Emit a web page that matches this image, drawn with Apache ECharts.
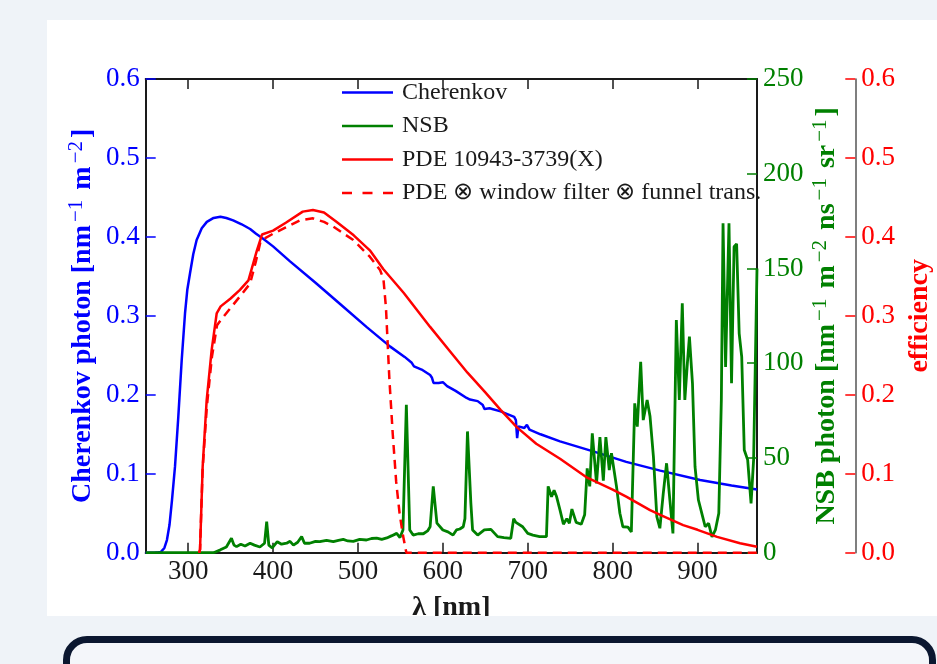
<!DOCTYPE html>
<html>
<head>
<meta charset="utf-8">
<script src="https://cdn.jsdelivr.net/npm/echarts@6/dist/echarts.min.js"></script>
<style>
  html, body { margin: 0; padding: 0; width: 937px; height: 664px; overflow: hidden; background: #eff3f8; }
  #card { position: absolute; left: 47px; top: 20px; width: 890px; height: 596px; background: #ffffff; overflow: hidden; }
  #chart { width: 890px; height: 596px; }
  #panel { position: absolute; left: 63px; top: 636px; width: 859px; height: 60px;
           border: 7px solid #0b1730; border-radius: 24px; background: #f4f6fa; }
</style>
</head>
<body>
<div id="card"><div id="chart"></div></div>
<div id="panel"></div>
<script>
// Wavelength ticks (nm)
const xTicks = [300, 400, 500, 600, 700, 800, 900];

// Cherenkov photon density [nm^-1 m^-2]
const cherNm  = [250, 260, 265, 268, 272, 275, 278, 281, 284.5, 288.4, 292.4, 296.3, 299, 302.2, 306, 310, 316, 322, 330, 338, 345, 353, 363, 373, 380, 388, 400, 420, 450, 480, 510, 538, 555, 563, 566, 575, 585, 587, 589, 595, 600, 605, 615, 628, 632, 641, 647, 649, 655, 668, 684, 686, 687.5, 689, 696, 699, 702, 715, 738, 778, 816, 856, 903, 940, 970];
const cherVal = [0, 0, 0.0005, 0.001, 0.006, 0.016, 0.035, 0.067, 0.109, 0.172, 0.244, 0.303, 0.333, 0.354, 0.378, 0.396, 0.411, 0.419, 0.424, 0.4256, 0.424, 0.421, 0.416, 0.410, 0.404, 0.398, 0.388, 0.369, 0.342, 0.314, 0.286, 0.261, 0.248, 0.241, 0.236, 0.232, 0.225, 0.222, 0.215, 0.215, 0.216, 0.211, 0.205, 0.196, 0.194, 0.192, 0.187, 0.182, 0.183, 0.179, 0.172, 0.168, 0.145, 0.160, 0.158, 0.162, 0.156, 0.150, 0.141, 0.128, 0.115, 0.104, 0.092, 0.085, 0.080];

// Night-sky background [nm^-1 m^-2 ns^-1 sr^-1]
const nsbNm  = [250, 330, 338, 345, 351, 354, 357, 362, 367, 373, 378, 384.5, 390, 392.5, 395, 399, 405, 410, 416, 420, 424, 429, 433.7, 437, 443, 450, 455, 463, 471, 477, 482.7, 488, 494.5, 502, 510, 516, 522, 528, 534, 540, 545.6, 549.5, 553, 557, 561, 565, 571, 577, 582, 585, 588.7, 593, 600, 606, 612, 616, 620, 624, 626, 629, 631, 633, 635, 641, 648.8, 656.6, 664.5, 672, 680, 683.4, 686, 688, 694, 700, 706, 714, 722, 724, 728, 731, 734, 738, 742, 746, 749, 752, 757, 763, 767, 770, 773, 776, 781, 785, 789, 792, 796, 798.6, 804.5, 808.5, 812, 818, 822, 826, 829, 833, 836, 840.6, 844, 848, 852, 855.6, 859.6, 863.5, 867.4, 871, 875, 878.5, 882, 885, 888, 890.4, 894, 897, 901, 905, 909, 913, 917, 921, 925, 928, 930, 933, 937, 940, 943, 946, 949, 952, 955, 959, 963, 966, 969, 970];
const nsbVal = [0, 0, 1.5, 3, 7.6, 4, 3.2, 4.5, 3.5, 5, 4, 3, 5, 16.4, 4, 2.5, 5.8, 4.5, 5, 6, 4, 5.5, 8.5, 5, 5, 6, 5.8, 6.5, 5.8, 6.5, 7, 6.2, 6, 7, 6.7, 7.5, 7.7, 7, 7.8, 9, 10.2, 8, 12, 78, 12, 9.3, 10, 10, 11.5, 13.7, 35, 15.6, 12, 11, 9.3, 12, 12.5, 13.7, 18, 64, 65, 26, 12, 9.3, 12, 12.3, 8.5, 8, 7.6, 18, 16, 15.5, 13.7, 10.2, 9.3, 8.5, 8.5, 35, 29.5, 33, 29.5, 22.5, 15, 18, 15.5, 23, 16, 15, 20, 44.5, 35, 63, 36.6, 61, 38, 61, 43.6, 52.5, 35, 20.8, 13.7, 13.5, 11, 78.8, 66.5, 100.8, 70, 80.6, 72, 50.7, 19, 12.9, 31.3, 47.2, 27.8, 10.2, 122.8, 80.6, 131.6, 80.6, 100, 114, 89.4, 45.4, 27.8, 20.8, 13.7, 15.5, 8.4, 12, 20.8, 80.6, 173.8, 98, 173.8, 89.4, 161.5, 163, 115.8, 103.4, 54.2, 49, 26, 49, 124.5, 150];

// Photon detection efficiency of the PMT
const pdeNm  = [313, 314, 317.1, 321.8, 327.7, 333.6, 338.3, 350, 361, 371, 381, 387, 400, 415, 435, 447, 460, 475, 495, 514, 530, 554, 585, 610, 629, 650, 668, 687, 710, 738, 770, 800, 816, 844, 856, 883, 900, 923, 950, 970];
const pdeVal = [0, 0.004, 0.109, 0.193, 0.257, 0.303, 0.312, 0.322, 0.333, 0.345, 0.383, 0.403, 0.408, 0.418, 0.432, 0.434, 0.431, 0.419, 0.402, 0.383, 0.359, 0.329, 0.286, 0.253, 0.228, 0.203, 0.181, 0.159, 0.138, 0.119, 0.095, 0.080, 0.071, 0.054, 0.048, 0.035, 0.029, 0.020, 0.012, 0.0076];

// PDE folded with window filter and funnel transmission
const effNm  = [313, 314, 317, 322, 328, 334, 338, 350, 362, 373, 380, 385, 390, 400, 415, 431.8, 447, 460, 471, 494.5, 514, 526, 530, 533, 537, 541, 545, 549, 553, 557, 970];
const effVal = [0, 0.004, 0.105, 0.185, 0.248, 0.288, 0.294, 0.310, 0.326, 0.341, 0.370, 0.393, 0.398, 0.404, 0.412, 0.421, 0.4235, 0.419, 0.413, 0.396, 0.375, 0.358, 0.347, 0.31, 0.22, 0.15, 0.09, 0.05, 0.022, 0, 0];

const seriesNames = ['Cherenkov', 'NSB', 'PDE 10943-3739(X)', 'PDE \u2297 window filter \u2297 funnel trans.'];

const FONT = '"Liberation Serif", "Times New Roman", serif';
const BLUE = '#0000ff', GREEN = '#008000', RED = '#ff0000', INK = '#1a1a1a';

function pairs(xs, ys) { return xs.map((x, i) => [x, ys[i]]); }

// bold title text with lighter raised exponents
function titleRich(color) {
  return {
    b: { fontFamily: FONT, fontSize: 28, fontWeight: 'bold', color: color, lineHeight: 34 },
    s: { fontFamily: FONT, fontSize: 21, fontWeight: 'normal', color: color, lineHeight: 20, verticalAlign: 'top', padding: [0, 3, 0, 3] }
  };
}

const LINE_ICON = 'path://M0,0H51V2.5H0Z';
const DASH_ICON = 'path://M0,0H10V2.5H0Z M20.5,0H30.5V2.5H20.5Z M41,0H51V2.5H41Z';

const boxLine = { show: true, onZero: false, lineStyle: { color: INK, width: 2 } };

const chart = echarts.init(document.getElementById('chart'), null, { renderer: 'canvas' });

chart.setOption({
  animation: false,
  backgroundColor: '#ffffff',
  grid: { left: 98.7, top: 59, width: 611.3, height: 473.7, outerBoundsMode: 'none' },
  legend: {
    orient: 'vertical', left: 295, top: 60.5, padding: 0,
    itemGap: 9.5, itemWidth: 51, itemHeight: 2.5, selectedMode: false,
    textStyle: { fontFamily: FONT, fontSize: 24, color: INK, lineHeight: 24, padding: [0, 0, 0, 4] },
    data: [
      { name: seriesNames[0], icon: LINE_ICON },
      { name: seriesNames[1], icon: LINE_ICON },
      { name: seriesNames[2], icon: LINE_ICON },
      { name: seriesNames[3], icon: DASH_ICON }
    ]
  },
  xAxis: [
    {
      type: 'value', position: 'bottom', min: 250, max: 970,
      axisLine: boxLine,
      axisTick: { show: true, inside: true, length: 10, customValues: xTicks, lineStyle: { color: INK, width: 1.5 } },
      axisLabel: { show: true, customValues: xTicks, color: INK, fontFamily: FONT, fontSize: 27, margin: 6 },
      splitLine: { show: false },
      name: '\u03bb [nm]', nameLocation: 'middle', nameGap: 41, nameMoveOverlap: false,
      nameTextStyle: { fontFamily: FONT, fontSize: 28, fontWeight: 'bold', color: INK }
    },
    {
      type: 'value', position: 'top', min: 250, max: 970,
      axisLine: boxLine,
      axisTick: { show: true, inside: true, length: 10, customValues: xTicks, lineStyle: { color: INK, width: 1.5 } },
      axisLabel: { show: false },
      splitLine: { show: false }
    }
  ],
  yAxis: [
    {
      type: 'value', position: 'left', min: 0, max: 0.6, interval: 0.1,
      axisLine: boxLine,
      axisTick: { show: true, inside: true, length: 10, lineStyle: { color: BLUE, width: 1.5 } },
      axisLabel: { color: BLUE, fontFamily: FONT, fontSize: 27, margin: 6, formatter: v => v.toFixed(1) },
      splitLine: { show: false },
      name: '{b|Cherenkov photon [nm}{s|\u22121}{b| m}{s|\u22122}{b|]}',
      nameLocation: 'middle', nameGap: 46, nameMoveOverlap: false,
      nameTextStyle: { rich: titleRich(BLUE) }
    },
    {
      type: 'value', position: 'right', min: 0, max: 250, interval: 50,
      axisLine: boxLine,
      axisTick: { show: true, inside: true, length: 10, lineStyle: { color: GREEN, width: 1.5 } },
      axisLabel: { color: GREEN, fontFamily: FONT, fontSize: 27, margin: 6 },
      splitLine: { show: false },
      name: '{b|NSB photon [nm}{s|\u22121}{b| m}{s|\u22122}{b| ns}{s|\u22121}{b| sr}{s|\u22121}{b|]}',
      nameLocation: 'middle', nameGap: 53, nameMoveOverlap: false,
      nameTextStyle: { rich: titleRich(GREEN) }
    },
    {
      type: 'value', position: 'right', offset: 98.3, min: 0, max: 0.6, interval: 0.1,
      axisLine: { show: true, onZero: false, lineStyle: { color: '#555555', width: 1.5 } },
      axisTick: { show: true, inside: true, length: 10, lineStyle: { color: RED, width: 1.5 } },
      axisLabel: { color: RED, fontFamily: FONT, fontSize: 27, margin: 6, formatter: v => v.toFixed(1) },
      splitLine: { show: false },
      name: 'efficiency', nameLocation: 'middle', nameGap: 50, nameMoveOverlap: false,
      nameTextStyle: { fontFamily: FONT, fontSize: 28, fontWeight: 'bold', color: RED, lineHeight: 28 }
    }
  ],
  series: [
    {
      name: seriesNames[0], type: 'line', xAxisIndex: 0, yAxisIndex: 0,
      data: pairs(cherNm, cherVal), symbol: 'none', clip: false,
      color: BLUE, lineStyle: { color: BLUE, width: 2.5 }
    },
    {
      name: seriesNames[1], type: 'line', xAxisIndex: 0, yAxisIndex: 1,
      data: pairs(nsbNm, nsbVal), symbol: 'none', clip: false,
      color: GREEN, lineStyle: { color: GREEN, width: 2.8 }
    },
    {
      name: seriesNames[2], type: 'line', xAxisIndex: 0, yAxisIndex: 2,
      data: pairs(pdeNm, pdeVal), symbol: 'none', clip: false,
      color: RED, lineStyle: { color: RED, width: 2.5 }
    },
    {
      name: seriesNames[3], type: 'line', xAxisIndex: 0, yAxisIndex: 2,
      data: pairs(effNm, effVal), symbol: 'none', clip: false,
      color: RED, lineStyle: { color: RED, width: 2.5, type: [9, 6] }
    }
  ]
});
</script>
</body>
</html>
